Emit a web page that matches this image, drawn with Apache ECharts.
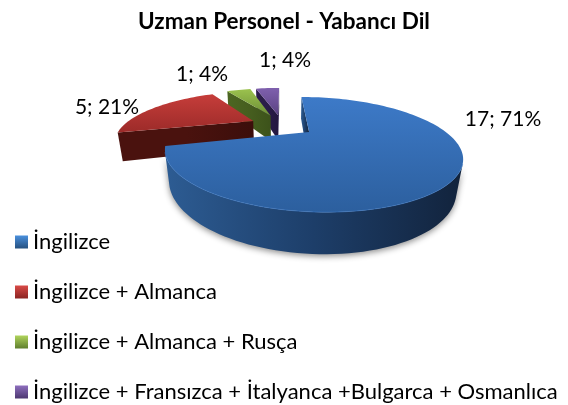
<!DOCTYPE html>
<html><head><meta charset="utf-8">
<style>html,body{margin:0;padding:0;background:#fff}#c{width:568px;height:405px}</style>
<script src="https://cdn.jsdelivr.net/npm/echarts@6/dist/echarts.min.js"></script>
</head><body><div id="c"></div>
<script>
const categories = ['İngilizce','İngilizce + Almanca','İngilizce + Almanca + Rusça','İngilizce + Fransızca + İtalyanca +Bulgarca + Osmanlıca'];
const values = [17,5,1,1];
const title = 'Uzman Personel - Yabancı Dil';

// Appearance per category
const topColors = [['#3d7ac8','#2c5f9e'],['#c63d3a','#9c2b29'],['#9bc24e','#6c8e36'],['#7f60ae','#5a4282']];
const wallColors = [['#2d5c93','#1d3e69','#12233c'],['#4a120e','#4a120e','#3c0e0b'],['#4c6622','#465e1f','#3c521a'],['#2c1d4c','#2a1c48','#241840']];
const iconColors = [['#4a90dd','#25507f'],['#d94a47','#8a2422'],['#b0d45c','#5f7e2e'],['#8e6fbe','#4c3770']];
// 3D projection
const P = {cx:282, cy:125, rx:129, ry:43.4, persp:0.37, explode:0.25, depth:28, bottomPersp:0.03};
const LABEL_POS = [[503,119],[107,107],[202,74],[285,60]];

const total = values.reduce((a,b)=>a+b,0);
const rad = d => d*Math.PI/180;
function project(x,z,low){
  const w = 1 + P.persp*z + (low?P.bottomPersp:0);
  return [P.cx + P.rx*x/w, P.cy + (-P.ry*z + (low?P.depth:0))/w];
}
function area(p){let s=0;for(let i=0;i<p.length;i++){const a=p[i],b=p[(i+1)%p.length];s+=a[0]*b[1]-b[0]*a[1];}return s/2;}
function vgrad(c){return new echarts.graphic.LinearGradient(0,0,0,1,[{offset:0,color:c[0]},{offset:1,color:c[1]}]);}
function hgrad(c){return new echarts.graphic.LinearGradient(0,0,1,0,[{offset:0,color:c[0]},{offset:.5,color:c[1]},{offset:1,color:c[2]}]);}

function renderSlice(i){
  return function(params,api){
    const v = api.value(0);
    let before=0; for(let k=0;k<i;k++) before+=values[k];
    const a0 = before/total*360, a1 = a0 + v/total*360, mid=(a0+a1)/2;
    const ox = P.explode*Math.sin(rad(mid)), oz = P.explode*Math.cos(rad(mid));
    const pt = (a,low)=>project(ox+Math.sin(rad(a)),oz+Math.cos(rad(a)),low);
    const apexT = project(ox,oz,false), apexB = project(ox,oz,true);
    const steps = Math.max(6,Math.ceil((a1-a0)/2));
    const angs=[]; for(let s=0;s<=steps;s++) angs.push(a0+(a1-a0)*s/steps);
    const kids=[];
    // radial walls: keep only those facing the viewer
    const wallA=[apexT,pt(a0,false),pt(a0,true),apexB];
    const wallB=[pt(a1,false),apexT,apexB,pt(a1,true)];
    [wallA,wallB].forEach(w=>{
      if(area(w)<0){ kids.push({type:'polygon',shape:{points:w},style:{fill:hgrad(wallColors[i])}}); }
    });
    // outer wall: keep the facing arc run
    const run=[];
    for(let s=0;s<steps;s++){
      const q=[pt(angs[s],false),pt(angs[s+1],false),pt(angs[s+1],true),pt(angs[s],true)];
      if(area(q)<0){ if(!run.length) run.push(angs[s]); run.push(angs[s+1]); }
    }
    if(run.length){
      const poly=run.map(a=>pt(a,false)).concat(run.slice().reverse().map(a=>pt(a,true)));
      kids.push({type:'polygon',shape:{points:poly},style:{fill:hgrad(wallColors[i]),shadowBlur:6,shadowColor:'rgba(0,0,0,0.45)',shadowOffsetY:2}});
    }
    // top face
    const topPts=[apexT].concat(angs.map(a=>pt(a,false)));
    kids.push({type:'polygon',shape:{points:topPts},style:{fill:vgrad(topColors[i])}});
    if(run.length){
      kids.push({type:'polyline',shape:{points:run.map(a=>pt(a,false))},style:{fill:null,stroke:topColors[i][0],opacity:0.55,lineWidth:1}});
    }
    // value label
    const pct=Math.round(v/total*100);
    kids.push({type:'text',style:{x:LABEL_POS[i][0],y:LABEL_POS[i][1],text:v+'; '+pct+'%',font:'21px Lato',fill:'#000',align:'center',verticalAlign:'middle'}});
    return {type:'group',children:kids};
  };
}

const chart = echarts.init(document.getElementById('c'),null,{renderer:'canvas'});
chart.setOption({
  animation:false,
  backgroundColor:'#fff',
  title:{text:title,left:'center',top:5,textStyle:{fontFamily:'Lato',fontSize:22.5,fontWeight:'bold',color:'#000'}},
  legend:{orient:'vertical',left:15,top:231,padding:0,icon:'rect',itemWidth:13,itemHeight:13,itemGap:28,selectedMode:false,
    data:categories,textStyle:{fontFamily:'Lato',fontSize:22,color:'#000'}},
  series:categories.map((name,i)=>({
    type:'custom',name,coordinateSystem:'none',z:10-i*1+ (i===0?5:0),
    itemStyle:{color:vgrad(iconColors[i])},
    renderItem:renderSlice(i),
    data:[[values[i]]]
  }))
});
</script></body></html>
